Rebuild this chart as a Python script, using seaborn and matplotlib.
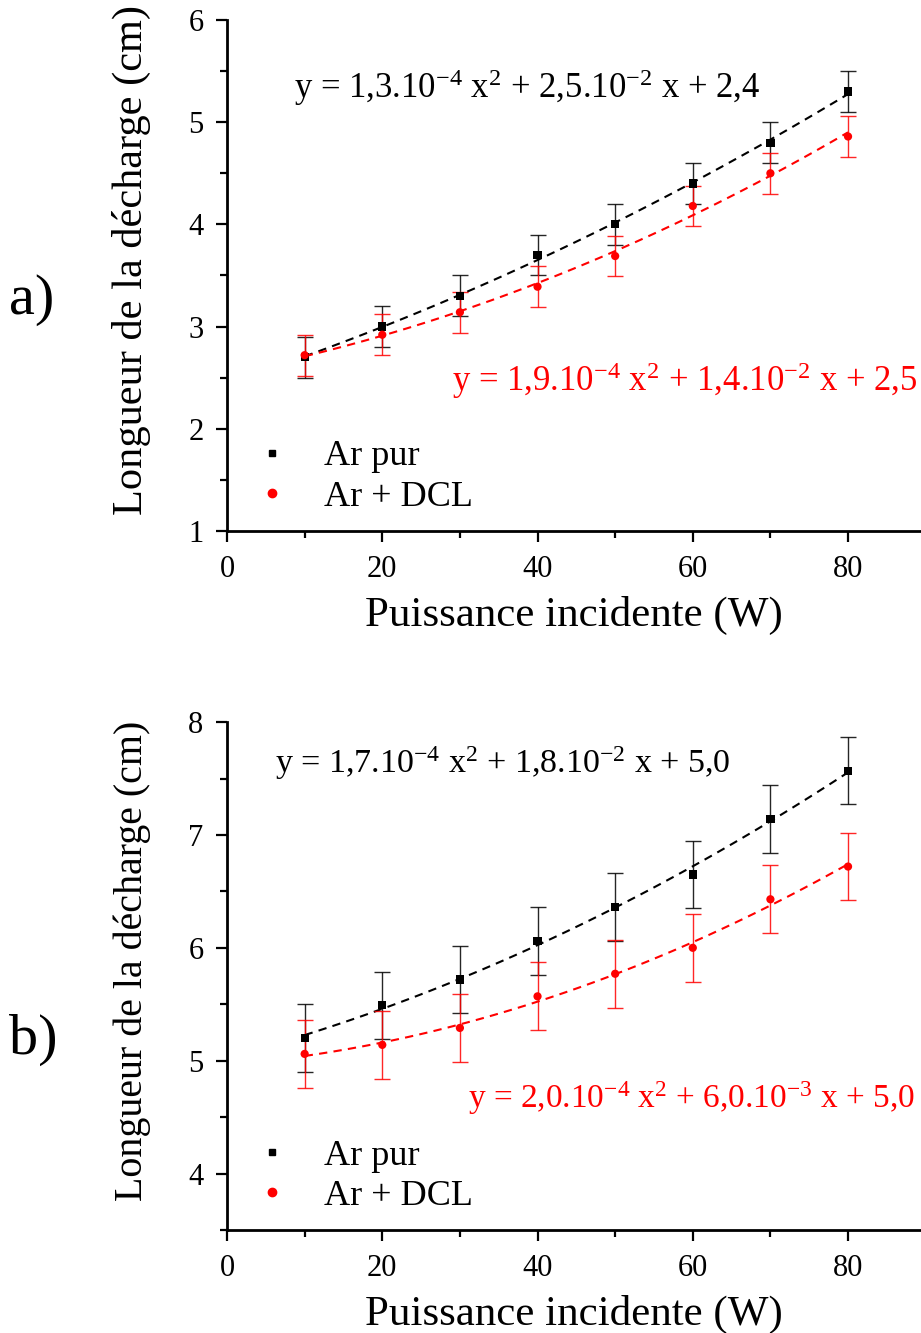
import numpy as np
import pandas as pd
import matplotlib
matplotlib.use("Agg")
import matplotlib.pyplot as plt
from matplotlib.ticker import MultipleLocator
from matplotlib.lines import Line2D
import seaborn as sns

# ---- data ----
power = [10, 20, 30, 40, 50, 60, 70, 80]
a_pur = [2.70, 3.00, 3.30, 3.70, 4.00, 4.40, 4.80, 5.30]
a_dcl = [2.72, 2.92, 3.14, 3.39, 3.69, 4.18, 4.50, 4.86]
a_err = [0.2] * 8
b_pur = [5.20, 5.49, 5.72, 6.06, 6.36, 6.65, 7.14, 7.57]
b_dcl = [5.06, 5.14, 5.29, 5.57, 5.77, 6.00, 6.43, 6.72]
b_err = [0.3] * 8
series = ["Ar pur", "Ar + DCL"]
eq_a = [r"y = 1,3.10$^{-4}$ x$^{2}$ + 2,5.10$^{-2}$ x + 2,4",
        r"y = 1,9.10$^{-4}$ x$^{2}$ + 1,4.10$^{-2}$ x + 2,5"]
eq_b = [r"y = 1,7.10$^{-4}$ x$^{2}$ + 1,8.10$^{-2}$ x + 5,0",
        r"y = 2,0.10$^{-4}$ x$^{2}$ + 6,0.10$^{-3}$ x + 5,0"]
xlabel = "Puissance incidente (W)"
ylabel = "Longueur de la décharge (cm)"

sns.set_style("ticks")
plt.rcParams["font.family"] = ["Liberation Serif", "DejaVu Serif"]
plt.rcParams["mathtext.fontset"] = "custom"
plt.rcParams["mathtext.rm"] = "Liberation Serif"
plt.rcParams["mathtext.it"] = "Liberation Serif:italic"
for key in ["text.color", "axes.labelcolor", "xtick.color", "ytick.color",
            "axes.edgecolor"]:
    plt.rcParams[key] = "black"

colors = {"Ar pur": "black", "Ar + DCL": "#ff0000"}
markers = {"Ar pur": "s", "Ar + DCL": "o"}
msize = {"Ar pur": 5, "Ar + DCL": 6}

fig = plt.figure(figsize=(9.21, 13.33), dpi=100)
ax1 = fig.add_axes([0.2465, 0.6017, 0.7535, 0.3833])
ax2 = fig.add_axes([0.2465, 0.0773, 0.7535, 0.3810])


def panel(ax, pur, dcl, err, eqs, ylim, eq_pos, eq_sizes, label, label_y,
          ylab_size, ylab_y):
    df = pd.DataFrame({
        "P": power * 2,
        "L": pur + dcl,
        "err": err + err,
        "serie": [series[0]] * 8 + [series[1]] * 8,
    })
    for s in series:
        d = df[df["serie"] == s]
        sns.regplot(data=d, x="P", y="L", order=2, ci=None, scatter=False,
                    ax=ax, color=colors[s],
                    line_kws=dict(ls=(0, (4, 3)), lw=1.5))
        ax.errorbar(d["P"], d["L"], yerr=d["err"], fmt="none",
                    ecolor=colors[s], elinewidth=1.0, capsize=6,
                    capthick=1.0, alpha=0.85)
    sns.scatterplot(data=df, x="P", y="L", hue="serie", style="serie",
                    palette=colors, markers=markers, s=35, linewidth=0,
                    ax=ax, legend=False, zorder=5)
    ax.set_xlim(0, 89.4)
    ax.set_ylim(*ylim)
    ax.xaxis.set_major_locator(MultipleLocator(20))
    ax.xaxis.set_minor_locator(MultipleLocator(10))
    ax.yaxis.set_major_locator(MultipleLocator(1))
    ax.yaxis.set_minor_locator(MultipleLocator(0.5))
    ax.tick_params(which="major", length=8, width=1.6, labelsize=22,
                   direction="out", pad=9, colors="black")
    ax.tick_params(which="minor", length=5, width=1.6, direction="out",
                   colors="black")
    for sp in ["left", "bottom"]:
        ax.spines[sp].set_linewidth(2)
        ax.spines[sp].set_color("black")
    sns.despine(ax=ax)
    ax.set_xlabel(xlabel, fontsize=31, labelpad=9)
    ax.set_ylabel(ylabel, fontsize=ylab_size)
    ax.yaxis.set_label_coords(-0.11, ylab_y)
    ax.text(eq_pos[0][0], eq_pos[0][1], eqs[0], transform=ax.transAxes,
            fontsize=eq_sizes[0], color="black", ha="left", va="center")
    ax.text(eq_pos[1][0], eq_pos[1][1], eqs[1], transform=ax.transAxes,
            fontsize=eq_sizes[1], color="#ff0000", ha="left", va="center")
    handles = [Line2D([], [], ls="none", marker=markers[s], color=colors[s],
                      markersize=msize[s]) for s in series]
    ax.legend(handles, series, loc="center left",
              bbox_to_anchor=(0.039, 0.106), borderaxespad=0, borderpad=0,
              frameon=False, fontsize=26, handlelength=1.0,
              handletextpad=0.94, labelspacing=0.2)
    fig.text(0.010, label_y, label, fontsize=42, ha="left", va="center")


panel(ax1, a_pur, a_dcl, a_err, eq_a, (1, 6),
      [(0.097, 0.867), (0.324, 0.295)], (25, 25), "a)", 0.775, 30.5, 0.531)
panel(ax2, b_pur, b_dcl, b_err, eq_b, (3.5, 8),
      [(0.069, 0.92), (0.347, 0.26)], (24.5, 24), "b)", 0.22, 28.8, 0.53)

fig.savefig("out.png", dpi=100)
